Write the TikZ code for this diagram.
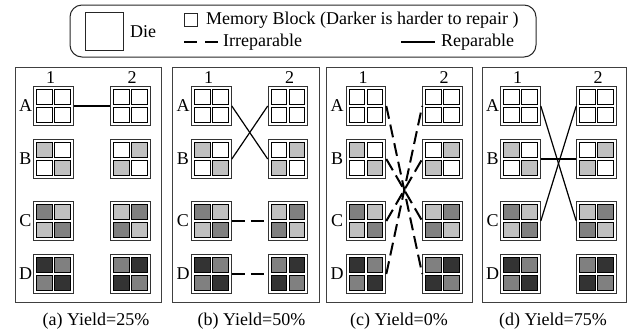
\documentclass[tikz,border=0pt]{standalone}
\usepackage{fontspec}
\setmainfont{Liberation Serif}
\usetikzlibrary{calc}
\definecolor{lg}{HTML}{C0C0C0}
\definecolor{mg}{HTML}{808080}
\definecolor{dg}{HTML}{333333}
\newcommand{\diecells}[5]{%
  \node[cell,fill=#2] (#1-1) at ($(#1)+(-8.95,-8.95)$) {};
  \node[cell,fill=#3] (#1-2) at ($(#1)+(8.95,-8.95)$) {};
  \node[cell,fill=#4] (#1-3) at ($(#1)+(-8.95,8.95)$) {};
  \node[cell,fill=#5] (#1-4) at ($(#1)+(8.95,8.95)$) {};}
\begin{document}
\begin{tikzpicture}[x=1pt,y=-1pt,font=\fontsize{18}{20}\selectfont,
  die/.style={draw=black!80,line width=1.1pt,minimum size=39.5pt,inner sep=0pt,fill=white},
  cell/.style={draw=black,line width=0.8pt,minimum size=15.6pt,inner sep=0pt},
  panel/.style={draw=black!75,line width=1pt},
  rep/.style={line width=1.2pt},
  irr/.style={line width=2pt,dash pattern=on 13pt off 6pt},
  lbl/.style={inner sep=0pt}]
\useasboundingbox (0,0) rectangle (634,333);
% legend
\node[draw=black!85,line width=1pt,rounded corners=12pt,minimum width=466pt,minimum height=52pt] (legend) at (303,31) {};
\node[draw=black!85,line width=1pt,minimum width=38pt,minimum height=38pt] (legdie) at (104,31.5) {};
\node[lbl,anchor=west] (legdietxt) at (130,32) {Die};
\node[draw=black!85,line width=0.8pt,minimum size=13pt,inner sep=0pt] (legblock) at (191,19.5) {};
\node[lbl,anchor=west] (legblocktxt) at (206,20) {Memory Block (Darker is harder to repair )};
\coordinate (ir1) at (184,42);
\coordinate (ir2) at (218,42);
\draw[line width=2pt,dash pattern=on 13pt off 8pt] (ir1) -- (ir2);
\node[lbl,anchor=west] (irtxt) at (223,42) {Irreparable};
\coordinate (rp1) at (401,42);
\coordinate (rp2) at (435,42);
\draw[rep] (rp1) -- (rp2);
\node[lbl,anchor=west] (rptxt) at (441,42) {Reparable};
% panels
\foreach \p/\xa/\xb/\L/\R in {a/53.5/130.5/15/161.5, b/211.5/288/172.5/319.5, c/366/442.5/326.5/472, d/520.5/596.5/482/626.5}{
  \draw[panel] (\L,67) rectangle (\R,302);
  \node[lbl] (\p col1) at (\xa-3,78) {1};
  \node[lbl] (\p col2) at (\xb+1.5,78) {2};
  \foreach \r/\y/\ca/\cb/\cc/\cd in {A/106/white/white/white/white, B/159/lg/white/white/lg, C/221/mg/lg/lg/mg, D/274/dg/mg/mg/dg}{
    \node[lbl] (\p row\r) at (\L+10.5,\y) {\r};
    \node[die] (\p\r1) at (\xa,\y) {};
    \diecells{\p\r1}{\ca}{\cb}{\cc}{\cd}
    \node[die] (\p\r2) at (\xb,\y) {};
    \diecells{\p\r2}{\cb}{\ca}{\cd}{\cc}
  }
}
% connectors (a)
\draw[rep] (aA1.east) -- (aA2.west);
% (b)
\draw[rep] (bA1.east) -- (bB2.west);
\draw[rep] (bB1.east) -- (bA2.west);
\draw[irr] (bC1.east) -- (bC2.west);
\draw[irr] (bD1.east) -- (bD2.west);
% (c)
\draw[irr] (cA1.east) -- (cD2.west);
\draw[irr] (cB1.east) -- (cC2.west);
\draw[irr] (cC1.east) -- (cB2.west);
\draw[irr] (cD1.east) -- (cA2.west);
% (d)
\draw[rep] (dA1.east) -- (dC2.west);
\draw[rep] (dB1.east) -- (dB2.west);
\draw[rep] (dC1.east) -- (dA2.west);
% captions
\node[lbl] (capa) at (96,321) {(a) Yield=25\%};
\node[lbl] (capb) at (251.5,321) {(b) Yield=50\%};
\node[lbl] (capc) at (399,321) {(c) Yield=0\%};
\node[lbl] (capd) at (553,321) {(d) Yield=75\%};
\end{tikzpicture}
\end{document}
